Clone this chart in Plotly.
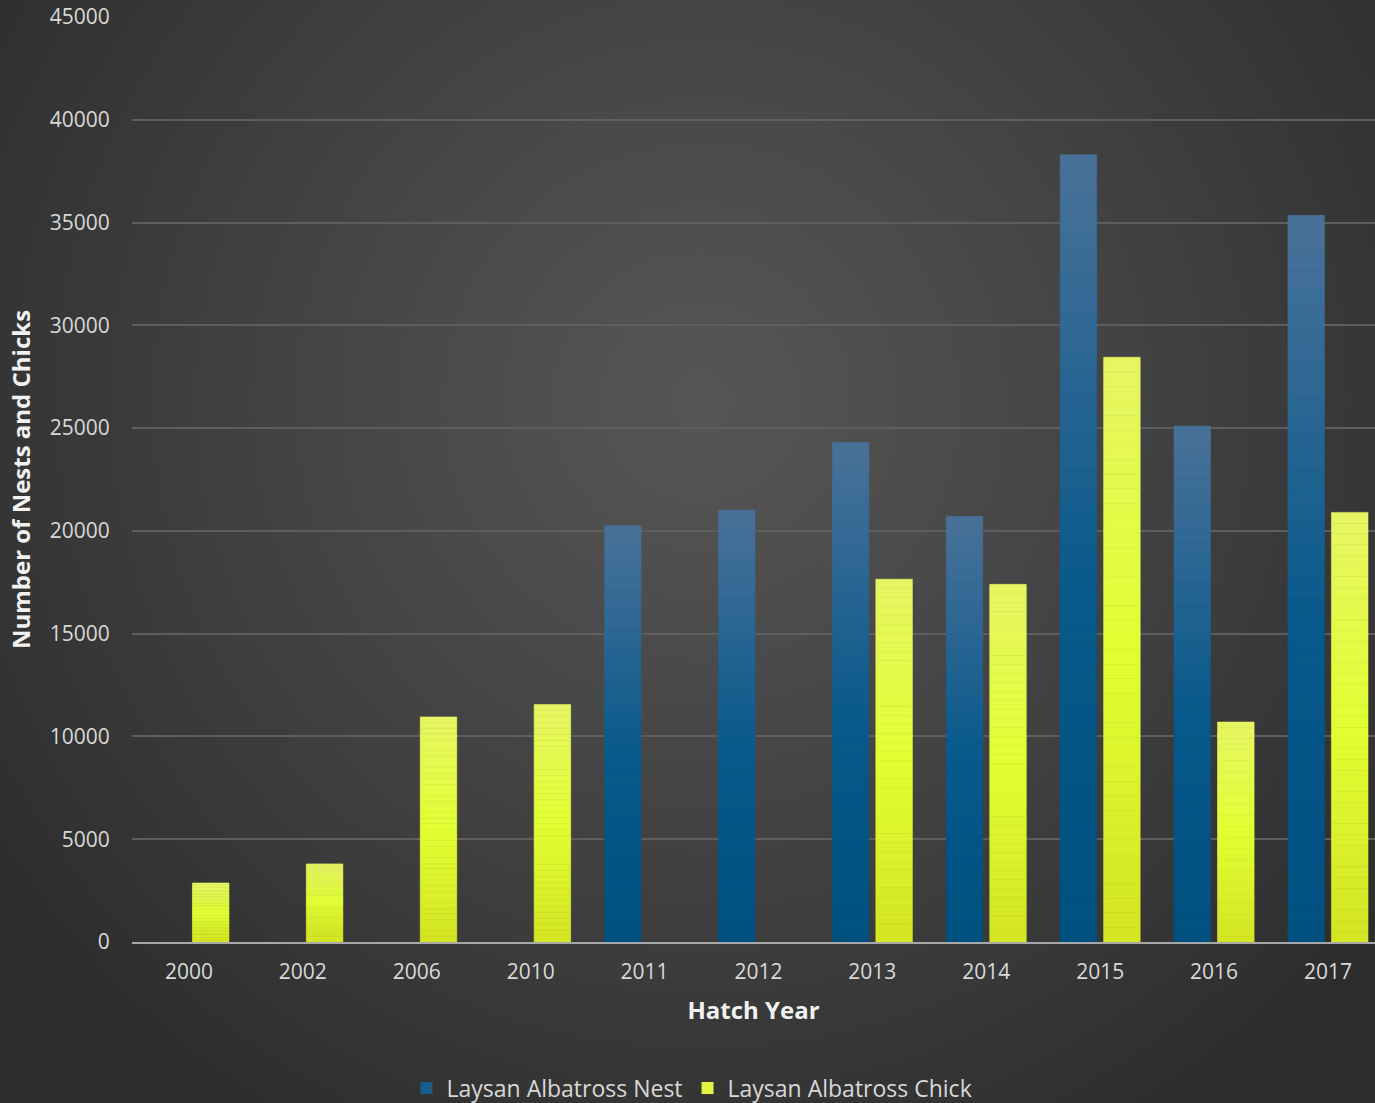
import base64, struct, zlib
import numpy as np
import plotly.graph_objects as go

# ---------------- data ----------------
years = ["2000", "2002", "2006", "2010", "2011", "2012", "2013", "2014", "2015", "2016", "2017"]
nests = [None, None, None, None, 20250, 21000, 24300, 20700, 38300, 25100, 35350]
chicks = [2870, 3800, 10950, 11550, None, None, 17650, 17400, 28450, 10700, 20900]
y_ticks = [0, 5000, 10000, 15000, 20000, 25000, 30000, 35000, 40000, 45000]

W, H = 1375, 1103
ML, MR, MT, MB = 132, 0, 17, 161

# ---------------- radial background image ----------------
def make_png(arr):
    h, w, _ = arr.shape
    raw = b"".join(b"\x00" + arr[i].tobytes() for i in range(h))
    def chunk(t, d):
        c = struct.pack(">I", len(d)) + t + d
        return c + struct.pack(">I", zlib.crc32(t + d) & 0xffffffff)
    return (b"\x89PNG\r\n\x1a\n" + chunk(b"IHDR", struct.pack(">IIBBBBB", w, h, 8, 2, 0, 0, 0))
            + chunk(b"IDAT", zlib.compress(raw, 9)) + chunk(b"IEND", b""))

sw, sh = W // 2, H // 2
yy, xx = np.mgrid[0:sh, 0:sw]
cx, cy = 700 / 2, 400 / 2
r = np.sqrt((xx - cx) ** 2 + (yy - cy) ** 2) / (880 / 2)
r = np.clip(r, 0, 1)
val = 86 - (86 - 44) * r ** 1.1
img = np.repeat(val[:, :, None], 3, axis=2).astype(np.uint8)
bg_uri = "data:image/png;base64," + base64.b64encode(make_png(img)).decode()

pw, ph = W - ML - MR, H - MT - MB

# ---------------- gradient bars ----------------
def lerp_stops(stops, t):
    for (t0, c0), (t1, c1) in zip(stops[:-1], stops[1:]):
        if t0 <= t <= t1:
            f = (t - t0) / (t1 - t0) if t1 > t0 else 0
            c = [round(a + (b - a) * f) for a, b in zip(c0, c1)]
            return "rgb(%d,%d,%d)" % tuple(c)
    return "rgb(%d,%d,%d)" % tuple(stops[-1][1])

nest_stops = [(0.0, (74, 114, 153)), (0.55, (8, 90, 140)), (1.0, (0, 80, 128))]
chick_stops = [(0.0, (230, 245, 98)), (0.5, (226, 255, 51)), (1.0, (212, 228, 36))]

N = 40
fig = go.Figure()

def add_series(name, values, stops, group, legend_color):
    for k in range(N):
        t = 1 - (k + 0.5) / N
        base = [None if v is None else v * k / N for v in values]
        hgt = [None if v is None else v / N for v in values]
        col = lerp_stops(stops, t)
        fig.add_trace(go.Bar(
            x=years, y=hgt, base=base, name=name, offsetgroup=group,
            legendgroup=group, showlegend=False,
            marker=dict(color=col, line=dict(width=0.6, color=col)),
            hoverinfo="skip",
        ))
    fig.add_trace(go.Bar(
        x=[years[0]], y=[None], name=name, offsetgroup=group, legendgroup=group,
        showlegend=True, marker=dict(color=legend_color, line=dict(width=0)),
    ))

add_series("Laysan Albatross Nest", nests, nest_stops, "nest", "#1b5c8e")
add_series("Laysan Albatross Chick", chicks, chick_stops, "chick", "#e2f53a")

font_fam = "Open Sans, Lato, DejaVu Sans, sans-serif"
txt = "#d9d9d9"

spacing = 113.9
x_end = -0.5 + pw / spacing

fig.update_layout(
    width=W, height=H,
    margin=dict(l=ML, r=MR, t=MT, b=MB, autoexpand=False),
    paper_bgcolor="#3a3a3a",
    plot_bgcolor="rgba(0,0,0,0)",
    barmode="group",
    bargap=0.236,
    bargroupgap=0.16,
    font=dict(family=font_fam, color=txt, size=20),
    images=[dict(source=bg_uri, xref="paper", yref="paper",
                 x=-ML / pw, y=1 + MT / ph, sizex=W / pw, sizey=H / ph,
                 sizing="stretch", layer="below", xanchor="left", yanchor="top")],
    xaxis=dict(
        type="category", categoryorder="array", categoryarray=years,
        range=[-0.5, x_end], automargin=False,
        showgrid=False, showline=True, linecolor="#a8a8a8", linewidth=2,
        ticks="outside", ticklen=10, tickcolor="rgba(0,0,0,0)",
        tickfont=dict(size=21, color=txt),
        title=dict(text="<b>Hatch Year</b>", font=dict(size=24, color="#f2f2f2"), standoff=18),
    ),
    yaxis=dict(
        range=[0, 45000], tickvals=y_ticks, ticktext=[str(v) for v in y_ticks],
        automargin=False,
        showgrid=True, gridcolor="#5e5e5e", gridwidth=1.5, zeroline=False,
        ticks="outside", ticklen=17, tickcolor="rgba(0,0,0,0)",
        tickfont=dict(size=21, color=txt),
        title=dict(text="<b>Number of Nests and Chicks</b>", font=dict(size=24, color="#f2f2f2"), standoff=12),
    ),
    legend=dict(orientation="h", x=(692 - ML) / pw, xanchor="center", y=-(1088 - 942) / ph, yanchor="middle",
                font=dict(size=23, color=txt), bgcolor="rgba(0,0,0,0)", itemwidth=30,
                traceorder="normal"),
    showlegend=True,
)

fig.write_html("out.html")
